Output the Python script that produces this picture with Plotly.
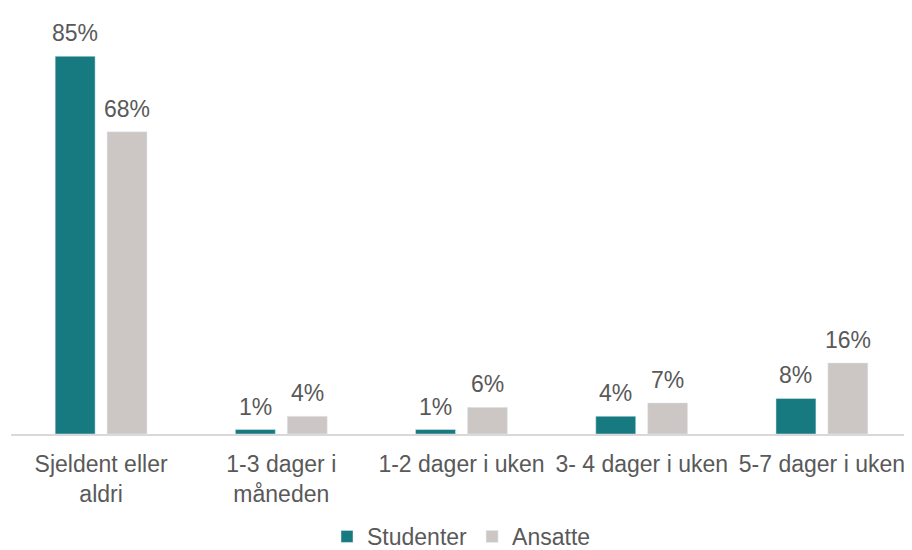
import plotly.graph_objects as go

categories = ["Sjeldent eller<br>aldri", "1-3 dager i<br>måneden", "1-2 dager i uken",
              "3- 4 dager i uken", "5-7 dager i uken"]
studenter = [85, 1, 1, 4, 8]
ansatte = [68, 4, 6, 7, 16]

teal = "#167A80"
grey = "#CCC7C5"
text_col = "#595959"
font = "Liberation Sans, Arial, sans-serif"

fig = go.Figure()
fig.add_trace(go.Bar(x=categories, y=studenter, name="Studenter", marker_color=teal))
fig.add_trace(go.Bar(x=categories, y=ansatte, name="Ansatte", marker_color=grey))

# value labels above bars
for vals, shift in ((studenter, -26), (ansatte, 26)):
    for c, v in zip(categories, vals):
        fig.add_annotation(x=c, y=v, text=f"{v}%", showarrow=False, xshift=shift,
                           yanchor="bottom", yshift=8,
                           font=dict(size=23, color=text_col, family=font))

# page body has an 8px margin, so keep the figure narrow enough for the window
fig.update_layout(
    width=904, height=550,
    margin=dict(l=3, r=0, t=26, b=124),
    paper_bgcolor="white", plot_bgcolor="white",
    barmode="group", bargap=0.424, bargroupgap=0.23,
    font=dict(family=font, size=23, color=text_col),
    showlegend=True,
    legend=dict(orientation="h", x=0.5, xanchor="center", yref="container", y=0.0,
                yanchor="bottom", font=dict(size=23, color=text_col), itemwidth=30,
                tracegroupgap=0),
)
fig.update_xaxes(showline=True, linecolor="#D9D9D9", linewidth=2, automargin=False,
                 ticks="outside", ticklen=8, tickcolor="rgba(0,0,0,0)",
                 tickfont=dict(size=23, color=text_col))
fig.update_yaxes(range=[0, 90], visible=False, showgrid=False, automargin=False)

fig.write_html("out.html")
